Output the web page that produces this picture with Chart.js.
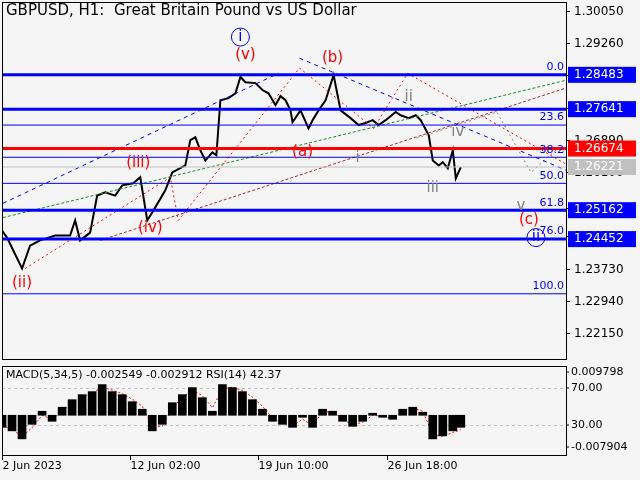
<!DOCTYPE html>
<html lang="en">
  <head>
    <meta charset="UTF-8" />
    <title>GBPUSD H1</title>
    <script src="https://cdn.jsdelivr.net/npm/chart.js"></script>
    <style>
      body { margin: 0; background: #f5f5f5; width: 640px; height: 480px; overflow: hidden; }
      #mainWrap { position: absolute; left: 0; top: 0; width: 640px; height: 361px; }
      #subWrap { position: absolute; left: 0; top: 362px; width: 640px; height: 118px; }
    </style>
  </head>
  <body>
    <div id="mainWrap"><canvas id="mainChart"></canvas></div>
    <div id="subWrap"><canvas id="subChart"></canvas></div>

    <script>
      // hourly bar index (0 = 2 Jun 2023) and close prices
      const priceBars = [0, 5, 20, 28, 38, 53, 68, 73, 78, 88, 95, 103, 113, 120, 131, 138, 145, 153, 163, 170, 183, 188, 193, 198, 203, 210, 214, 218, 226, 233, 238, 243, 253, 260, 266, 273, 278, 283, 288, 290, 298, 306, 310, 316, 323, 331, 338, 348, 356, 363, 370, 376, 383, 393, 398, 406, 413, 418, 426, 430, 436, 440, 445, 450, 453, 458];
      const prices = [1.2466, 1.2449, 1.2373, 1.2429, 1.2442, 1.2454, 1.2454, 1.2491, 1.2442, 1.2461, 1.2552, 1.2560, 1.2552, 1.2577, 1.2582, 1.2597, 1.2491, 1.2523, 1.2565, 1.2609, 1.2626, 1.2688, 1.2695, 1.2663, 1.2638, 1.2658, 1.2651, 1.2786, 1.2791, 1.2803, 1.2843, 1.2830, 1.2828, 1.2811, 1.2803, 1.2774, 1.2796, 1.2786, 1.2761, 1.2732, 1.2761, 1.2717, 1.2737, 1.2761, 1.2786, 1.2848, 1.2761, 1.2742, 1.2725, 1.2730, 1.2737, 1.2725, 1.2737, 1.2757, 1.2749, 1.2742, 1.2749, 1.2737, 1.2700, 1.2638, 1.2626, 1.2634, 1.2619, 1.2663, 1.2594, 1.2622];

      const yTicks = [1.3005, 1.2926, 1.2847, 1.2768, 1.2689, 1.261, 1.2521, 1.2452, 1.2373, 1.2294, 1.2215];
      const levelValues = [1.28483, 1.27641, 1.26674, 1.26221, 1.25162, 1.24452];
      const levelColors = ["#0000ff", "#0000ff", "#ff0000", "#c0c0c0", "#0000ff", "#0000ff"];
      const fibNames = ["0.0", "23.6", "38.2", "50.0", "61.8", "76.0", "100.0"];
      const fibValues = [1.28483, 1.2725, 1.2646, 1.2582, 1.25162, 1.24452, 1.2311];

      // wave paths [bar, price]
      const redWave = [[23, 1.2373], [168, 1.2597], [176, 1.2491], [297, 1.2865], [371, 1.2717], [405, 1.2852], [644, 1.2515]];
      const grayWave = [[414, 1.2693], [494, 1.2757], [528, 1.2609], [555, 1.2668], [635, 1.254]];
      const blueUp = [[1, 1.2533], [276, 1.2852]];
      const blueDown = [[297, 1.2889], [635, 1.254]];
      const greenTrend = [[1, 1.2498], [563, 1.2835]];
      const brownTrend = [[98, 1.2442], [563, 1.2816]];

      const waveText = ["(ii)", "(iii)", "(iv)", "(v)", "i", "(a)", "(b)", "(c)", "ii", "i", "ii", "iii", "iv", "v"];
      const waveBars = [20, 136, 148, 243, 238, 300, 330, 526, 533, 355, 406, 430, 455, 518];
      const wavePrices = [1.2338, 1.2631, 1.2471, 1.2897, 1.2941, 1.2658, 1.2889, 1.2491, 1.2449, 1.2643, 1.2793, 1.257, 1.2707, 1.2527];
      const waveColors = ["#ff0000", "#ff0000", "#ff0000", "#ff0000", "#0000ff", "#ff0000", "#ff0000", "#ff0000", "#0000ff", "#808080", "#808080", "#808080", "#808080", "#808080"];
      const waveCircled = [false, false, false, false, true, false, false, false, true, false, false, false, false, false];

      // indicator panel
      const subBars = [0, 10, 20, 30, 40, 50, 60, 70, 80, 90, 100, 110, 120, 130, 140, 150, 160, 170, 180, 190, 200, 210, 220, 230, 240, 250, 260, 270, 280, 290, 300, 310, 320, 330, 340, 350, 360, 370, 380, 390, 400, 410, 420, 430, 440, 450, 458];
      const macdHist = [-0.0024, -0.0031, -0.0047, -0.0018, 0.0008, -0.0012, 0.0016, 0.0031, 0.0041, 0.0047, 0.0061, 0.0047, 0.0041, 0.0027, 0.0012, -0.0031, -0.0018, 0.0025, 0.0041, 0.0055, 0.0035, 0.0008, 0.0061, 0.0055, 0.0047, 0.0031, 0.0012, -0.0012, -0.0018, -0.0024, -0.0004, -0.0024, 0.0012, 0.0008, -0.0012, -0.0022, -0.0012, 0.0004, -0.0004, -0.0008, 0.0012, 0.0016, 0.0006, -0.0047, -0.0041, -0.0031, -0.0024];
      const macdSignal = [-0.002, -0.0028, -0.0042, -0.0025, 0.0, -0.0008, 0.0008, 0.0025, 0.0036, 0.0044, 0.0056, 0.005, 0.0043, 0.0032, 0.0018, -0.0022, -0.0022, 0.0015, 0.0035, 0.005, 0.0039, 0.0015, 0.0052, 0.0056, 0.0049, 0.0036, 0.0018, -0.0006, -0.0015, -0.0021, -0.0008, -0.002, 0.0006, 0.0008, -0.0008, -0.0019, -0.0014, 0.0, -0.0002, -0.0006, 0.0008, 0.0014, 0.0008, -0.0038, -0.0042, -0.0034, -0.0029];
      const rsi = [34, 29, 31, 53, 56, 51, 48, 72, 56, 61, 74, 67, 67, 67, 64, 24, 45, 70, 67, 78, 59, 67, 78, 72, 67, 61, 53, 40, 48, 34, 51, 34, 56, 53, 42, 34, 42, 56, 48, 45, 59, 53, 45, 18, 31, 45, 42];
      const dateTicks = [0, 128, 256, 384];
      const dateLabels = ["2 Jun 2023", "12 Jun 02:00", "19 Jun 10:00", "26 Jun 18:00"];

      const FONT = "11px 'DejaVu Sans', sans-serif";
      const pts = (arr) => arr.map((p) => ({ x: p[0], y: p[1] }));
      const flat = (v) => [{ x: 0, y: v }, { x: 563, y: v }];
      const dotted = (data, color, dash) => ({ type: "line", data: pts(data), borderColor: color, borderWidth: 1, borderDash: dash, pointRadius: 0, fill: false });

      const datasets = [];
      fibValues.forEach((v) => datasets.push({ type: "line", data: flat(v), borderColor: "#0000ff", borderWidth: 1, pointRadius: 0 }));
      levelValues.forEach((v, i) => {
        if (i === 3) return;
        datasets.push({ type: "line", data: flat(v), borderColor: levelColors[i], borderWidth: 3, pointRadius: 0 });
      });
      datasets.push({ type: "line", data: flat(levelValues[3]), borderColor: "#c0c0c0", borderWidth: 1, pointRadius: 0 });
      datasets.push(dotted(greenTrend, "#1a8a1a", [3, 2]));
      datasets.push(dotted(brownTrend, "#a52a2a", [3, 2]));
      datasets.push(dotted(blueUp, "#0000ff", [4, 4]));
      datasets.push(dotted(blueDown, "#0000ff", [4, 4]));
      datasets.push(dotted(redWave, "#ff0000", [2, 3]));
      datasets.push(dotted(grayWave, "#808080", [2, 3]));
      datasets.push({
        type: "line",
        data: priceBars.map((b, i) => ({ x: b, y: prices[i] })),
        borderColor: "#000000",
        borderWidth: 2,
        pointRadius: 0,
        tension: 0,
      });

      const mainDecor = {
        id: "mainDecor",
        afterDatasetsDraw(chart) {
          const { ctx, chartArea: a, scales } = chart;
          const x = scales.x, y = scales.y;
          ctx.save();
          ctx.strokeStyle = "#000";
          ctx.lineWidth = 1;
          ctx.strokeRect(a.left + 0.5, a.top + 0.5, a.right - a.left, a.bottom - a.top);
          ctx.font = "15px 'DejaVu Sans', sans-serif";
          ctx.fillStyle = "#000";
          ctx.textBaseline = "top";
          ctx.textAlign = "left";
          ctx.fillText("GBPUSD, H1:  Great Britain Pound vs US Dollar", 6, 4);
          // price ticks
          ctx.font = "12px 'DejaVu Sans', sans-serif";
          ctx.textBaseline = "middle";
          yTicks.forEach((v) => {
            const py = Math.round(y.getPixelForValue(v)) + 0.5;
            ctx.beginPath(); ctx.moveTo(a.right, py); ctx.lineTo(a.right + 4, py); ctx.stroke();
            ctx.fillText(v.toFixed(5), a.right + 8, py);
          });
          // fib labels
          ctx.font = FONT;
          ctx.fillStyle = "#0000ff";
          ctx.textAlign = "right";
          ctx.textBaseline = "bottom";
          fibValues.forEach((v, i) => ctx.fillText(fibNames[i], a.right - 2, y.getPixelForValue(v) - 2));
          // wave labels
          ctx.font = "15px 'DejaVu Sans', sans-serif";
          ctx.textAlign = "center";
          ctx.textBaseline = "middle";
          waveText.forEach((t, i) => {
            const px = x.getPixelForValue(waveBars[i]);
            const py = y.getPixelForValue(wavePrices[i]);
            ctx.fillStyle = waveColors[i];
            ctx.fillText(t, px, py);
            if (waveCircled[i]) {
              ctx.strokeStyle = waveColors[i];
              ctx.beginPath();
              ctx.arc(px, py, 9, 0, Math.PI * 2);
              ctx.stroke();
            }
          });
          // right axis boxes
          ctx.font = "12px 'DejaVu Sans', sans-serif";
          ctx.textAlign = "left";
          levelValues.forEach((v, i) => {
            const py = y.getPixelForValue(v);
            ctx.fillStyle = levelColors[i];
            ctx.fillRect(a.right + 2, py - 8, 68, 16);
            ctx.fillStyle = "#fff";
            ctx.fillText(v.toFixed(5), a.right + 8, py);
          });
          ctx.restore();
        },
      };

      new Chart(document.getElementById("mainChart"), {
        type: "line",
        data: { datasets },
        options: {
          responsive: true,
          maintainAspectRatio: false,
          animation: false,
          layout: { padding: { left: 2, top: 2, bottom: 2, right: 74 } },
          plugins: { legend: { display: false }, tooltip: { enabled: false } },
          scales: {
            x: { type: "linear", min: 0, max: 563, display: false },
            y: { min: 1.2151, max: 1.3027, display: false },
          },
        },
        plugins: [mainDecor],
      });

      const subDecor = {
        id: "subDecor",
        beforeDatasetsDraw(chart) {
          const { ctx, chartArea: a, scales } = chart;
          ctx.save();
          ctx.strokeStyle = "#c0c0c0";
          ctx.setLineDash([3, 3]);
          [70, 30].forEach((v) => {
            const py = Math.round(scales.r.getPixelForValue(v)) + 0.5;
            ctx.beginPath(); ctx.moveTo(a.left, py); ctx.lineTo(a.right, py); ctx.stroke();
          });
          ctx.restore();
        },
        afterDatasetsDraw(chart) {
          const { ctx, chartArea: a, scales } = chart;
          ctx.save();
          ctx.strokeStyle = "#000";
          ctx.strokeRect(a.left + 0.5, a.top + 0.5, a.right - a.left, a.bottom - a.top);
          ctx.font = FONT;
          ctx.fillStyle = "#000";
          ctx.textBaseline = "top";
          ctx.fillText("MACD(5,34,5) -0.002549 -0.002912 RSI(14) 42.37", a.left + 4, a.top + 4);
          ctx.textBaseline = "middle";
          const labs = [[a.top + 6, "0.009798"], [scales.r.getPixelForValue(70), "70.00"], [scales.r.getPixelForValue(30), "30.00"], [a.bottom - 8, "-0.007904"]];
          labs.forEach(([py, t]) => {
            ctx.fillText(t, a.right + 5, py);
            ctx.beginPath(); ctx.moveTo(a.right, py); ctx.lineTo(a.right + 3, py); ctx.stroke();
          });
          ctx.textBaseline = "top";
          dateTicks.forEach((b, i) => {
            const px = Math.round(scales.x.getPixelForValue(b)) + 0.5;
            ctx.beginPath(); ctx.moveTo(px, a.bottom); ctx.lineTo(px, a.bottom + 5); ctx.stroke();
            ctx.fillText(dateLabels[i], px, a.bottom + 6);
          });
          ctx.restore();
        },
      };

      new Chart(document.getElementById("subChart"), {
        data: {
          datasets: [
            { type: "bar", yAxisID: "m", data: subBars.map((b, i) => ({ x: b, y: macdHist[i] })), backgroundColor: "#000", barPercentage: 1, categoryPercentage: 1 },
            { type: "line", yAxisID: "m", data: subBars.map((b, i) => ({ x: b, y: macdSignal[i] })), borderColor: "#ff0000", borderDash: [2, 2], borderWidth: 1, pointRadius: 0 },
            { type: "line", yAxisID: "r", data: subBars.map((b, i) => ({ x: b, y: rsi[i] })), borderColor: "#1e90ff", borderWidth: 2, pointRadius: 0 },
          ],
        },
        options: {
          responsive: true,
          maintainAspectRatio: false,
          animation: false,
          layout: { padding: { left: 2, top: 4, bottom: 25, right: 74 } },
          plugins: { legend: { display: false }, tooltip: { enabled: false } },
          scales: {
            x: { type: "linear", min: 0, max: 563, display: false, offset: false },
            m: { min: -0.007904, max: 0.009798, display: false },
            r: { min: 2, max: 98, display: false },
          },
        },
        plugins: [subDecor],
      });
    </script>
  </body>
</html>
